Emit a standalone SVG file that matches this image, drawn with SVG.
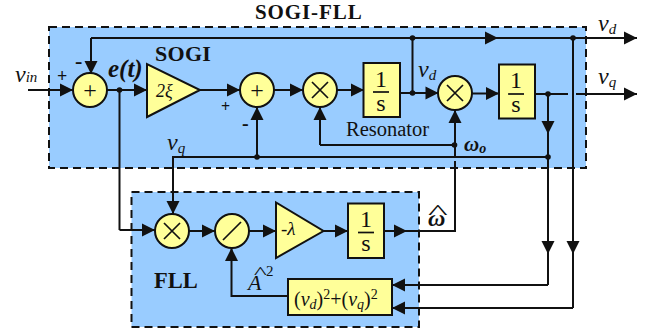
<svg xmlns="http://www.w3.org/2000/svg" width="661" height="336" viewBox="0 0 661 336">
<style>
text{font-family:"Liberation Serif","Times New Roman",serif;fill:#111}
.region{fill:#99ccff;stroke:#111;stroke-width:2;stroke-dasharray:8 5}
.n{fill:#ffff99;stroke:#111;stroke-width:2}
.w{fill:none;stroke:#111;stroke-width:2}
.a{fill:none;stroke:#111;stroke-width:2;marker-end:url(#ah)}
.dot{fill:#111}
.sym{fill:none;stroke:#111;stroke-width:1.7}
.b{font-weight:bold}
.v{font-style:italic;font-size:24px}
.sub{font-size:15px}
.one{font-size:24px;text-anchor:middle}
.plus{font-size:24px;text-anchor:middle}
</style>
<defs>
<marker id="ah" markerUnits="userSpaceOnUse" markerWidth="14" markerHeight="14" refX="13" refY="7" orient="auto" overflow="visible"><path d="M0 0.5L13 7L0 13.5Z" fill="#111"/></marker>
</defs>
<rect id="sogi-region" class="region" x="49" y="27" width="537" height="141"/>
<rect id="fll-region" class="region" x="131.5" y="192" width="287.5" height="135"/>
<g id="connectors">
<path class="a" d="M28 90H73"/>
<path class="a" d="M91 38V74"/>
<path class="a" d="M91 38H498"/>
<path class="a" d="M498 38H637"/>
<path class="a" d="M107 90H147"/>
<path class="a" d="M200 90H240"/>
<path class="a" d="M274 90H303"/>
<path class="a" d="M337 90H364"/>
<path class="w" d="M412.500 38V93"/>
<path class="a" d="M400 93H438.500"/>
<path class="a" d="M472 93.500H499"/>
<path class="w" d="M535 94H568"/>
<path class="a" d="M576 94H637"/>
<path class="a" d="M548 94V134"/>
<path class="a" d="M548 134V254"/>
<path class="w" d="M548 254V285"/>
<path class="a" d="M548 285H392"/>
<path class="a" d="M573 38V254"/>
<path class="w" d="M573 254V308"/>
<path class="a" d="M573 308H392"/>
<path class="w" d="M173 167V157H548"/>
<path class="a" d="M257 157V107"/>
<path class="a" d="M173 157V214"/>
<path class="w" d="M455 145H320"/>
<path class="a" d="M320 145V107"/>
<path class="a" d="M455 156V110"/>
<path class="w" d="M455 161V231H407"/>
<path class="a" d="M384 231H407"/>
<path class="w" d="M119.500 90V230"/>
<path class="a" d="M119.500 230H155"/>
<path class="a" d="M189 231H215"/>
<path class="a" d="M249 231H276"/>
<path class="a" d="M323.500 231H348"/>
<path class="a" d="M288 296H231.500V248"/>
<circle class="dot" cx="119.500" cy="90" r="2.800"/>
<circle class="dot" cx="257" cy="157" r="2.800"/>
<circle class="dot" cx="412.500" cy="38" r="2.800"/>
<circle class="dot" cx="412.500" cy="93" r="2.800"/>
<circle class="dot" cx="573" cy="38" r="2.800"/>
<circle class="dot" cx="548" cy="94" r="2.800"/>
<circle class="dot" cx="548" cy="157" r="2.800"/>
<circle class="dot" cx="454.500" cy="145" r="2.800"/>
</g>
<g id="sum1"><circle class="n" cx="90" cy="90" r="17"/><text class="plus" x="90" y="98">+</text></g>
<g id="gain-2xi"><path class="n" d="M147 64V117L200 90Z"/><text x="156" y="97" font-size="18" font-style="italic">2ξ</text></g>
<g id="sum2"><circle class="n" cx="257" cy="90" r="17"/><text class="plus" x="257" y="98">+</text></g>
<g id="mult1"><circle class="n" cx="320" cy="90" r="17"/><path class="sym" d="M312 82L328 98M328 82L312 98"/></g>
<g id="int1"><rect class="n" x="363.500" y="63" width="36.500" height="54"/><text class="one" x="381" y="87">1</text><path class="sym" d="M373 92H389"/><text class="one" x="381" y="111">s</text></g>
<g id="mult2"><circle class="n" cx="455" cy="93" r="17"/><path class="sym" d="M447 85L463 101M463 85L447 101"/></g>
<g id="int2"><rect class="n" x="499" y="64.500" width="36" height="54"/><text class="one" x="516" y="88">1</text><path class="sym" d="M508 94H524"/><text class="one" x="516" y="112">s</text></g>
<g id="mult3"><circle class="n" cx="172" cy="231" r="17"/><path class="sym" d="M164 223L180 239M180 223L164 239"/></g>
<g id="divider"><circle class="n" cx="232" cy="231" r="17"/><path class="sym" d="M223 240L241 222"/></g>
<g id="gain-lambda"><path class="n" d="M276 202.500V258L323.500 231Z"/><text x="281" y="235" font-size="19" font-style="italic">-λ</text></g>
<g id="int3"><rect class="n" x="348" y="203.500" width="36" height="54.500"/><text class="one" x="366" y="227">1</text><path class="sym" d="M358 232.500H374"/><text class="one" x="366" y="251">s</text></g>
<g id="amp"><rect class="n" x="288" y="279" width="104" height="36"/><text x="294" y="306" font-size="20">(<tspan font-style="italic">v</tspan><tspan font-size="14" font-style="italic" dy="3">d</tspan><tspan dy="-3">)</tspan><tspan font-size="14" dy="-7">2</tspan><tspan dy="7">+(</tspan><tspan font-style="italic">v</tspan><tspan font-size="14" font-style="italic" dy="3">q</tspan><tspan dy="-3">)</tspan><tspan font-size="14" dy="-7">2</tspan></text></g>
<g id="labels">
<text class="b" x="255" y="18.700" font-size="21" letter-spacing="0.900">SOGI-FLL</text>
<text class="b" x="155" y="61" font-size="22" letter-spacing="0.300">SOGI</text>
<text class="b" x="154" y="288" font-size="22.500">FLL</text>
<text x="346" y="136" font-size="20.500">Resonator</text>
<text class="v" x="15" y="82">v<tspan class="sub" dy="0">in</tspan></text>
<text class="v" x="167" y="150">v<tspan class="sub" dy="3">q</tspan></text>
<text class="v" x="418" y="77">v<tspan class="sub" dy="3">d</tspan></text>
<text class="v" x="598" y="31">v<tspan class="sub" dy="3">d</tspan></text>
<text class="v" x="598" y="84">v<tspan class="sub" dy="3">q</tspan></text>
<text class="b" x="108" y="77" font-size="25" font-style="italic">e(t)</text>
<text class="b" x="464" y="151" font-size="21" font-style="italic">ω<tspan font-size="14" dy="2">o</tspan></text>
<text class="b" x="428" y="226" font-size="24" font-style="italic">ω</text>
<text transform="translate(428 219) scale(2.100 1.050)" font-size="20">^</text>
<text x="248" y="290" font-size="22" font-style="italic">A</text>
<text transform="translate(254 277.600) scale(1.700 1)" font-size="16">^</text>
<text x="266" y="276" font-size="15">2</text>
<text class="b" x="57" y="82" font-size="18">+</text>
<text class="b" x="75" y="68" font-size="22">-</text>
<text x="221" y="112" font-size="16" class="b">+</text>
<text class="b" x="242" y="130" font-size="20">-</text>
</g>
</svg>
